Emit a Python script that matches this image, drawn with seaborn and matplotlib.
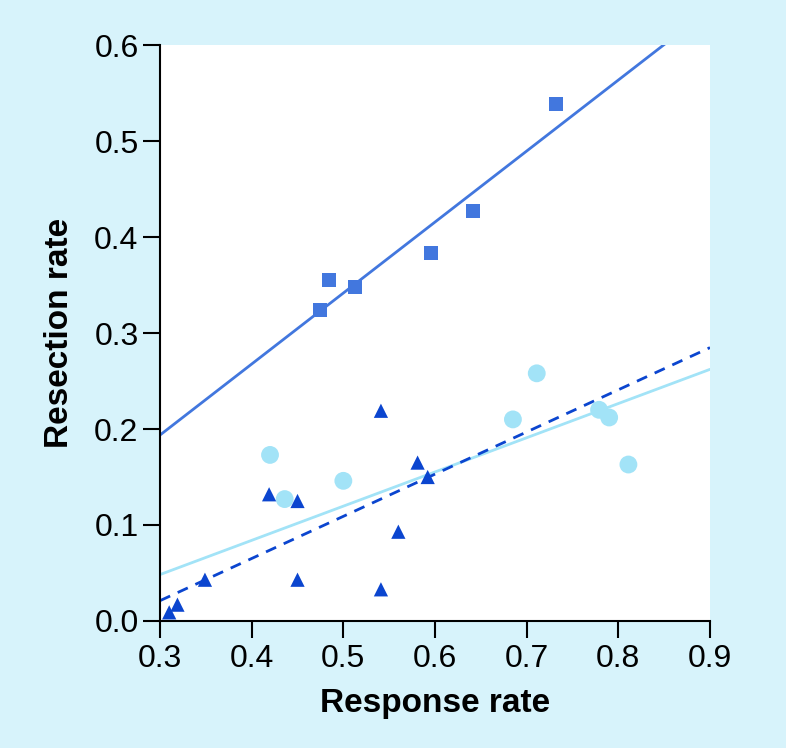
import numpy as np
import pandas as pd
import matplotlib
matplotlib.use("Agg")
import matplotlib.pyplot as plt
import seaborn as sns

# ------------------------------------------
# DATA
# ------------------------------------------
# squares
sq_x = [0.475, 0.484, 0.513, 0.596, 0.641, 0.732]
sq_y = [0.324, 0.355, 0.348, 0.383, 0.427, 0.539]

# light circles
ci_x = [0.420, 0.436, 0.500, 0.685, 0.711, 0.779, 0.790, 0.811]
ci_y = [0.173, 0.127, 0.146, 0.210, 0.258, 0.220, 0.212, 0.163]

# triangles
tr_x = [0.541, 0.581, 0.592, 0.419, 0.450, 0.560, 0.349, 0.450, 0.541, 0.319, 0.310]
tr_y = [0.219, 0.165, 0.150, 0.132, 0.125, 0.093, 0.043, 0.043, 0.033, 0.017, 0.009]

x_ticks = [0.3, 0.4, 0.5, 0.6, 0.7, 0.8, 0.9]
y_ticks = [0.0, 0.1, 0.2, 0.3, 0.4, 0.5, 0.6]

# colours
bg_col = "#d7f3fb"
sq_col = "#4277de"
ci_col = "#a2e3f7"
tr_col = "#0b45cf"

# ------------------------------------------
# FIGURE
# ------------------------------------------
sns.set_style("ticks")
plt.rcParams["font.family"] = ["Liberation Sans", "DejaVu Sans"]
plt.rcParams["text.color"] = "black"
plt.rcParams["axes.labelcolor"] = "black"

fig = plt.figure(figsize=(7.86, 7.48), dpi=100, facecolor=bg_col)
ax = fig.add_axes([0.2036, 0.1698, 0.6997, 0.7700])
ax.set_facecolor("white")
ax.set_xlim(0.3, 0.9)
ax.set_ylim(0.0, 0.6)

df_sq = pd.DataFrame({"x": sq_x, "y": sq_y})
df_ci = pd.DataFrame({"x": ci_x, "y": ci_y})
df_tr = pd.DataFrame({"x": tr_x, "y": tr_y})
df_low = pd.concat([df_ci, df_tr], ignore_index=True)

# regression lines (extended to the axis limits)
sns.regplot(data=df_sq, x="x", y="y", ax=ax, scatter=False, ci=None, truncate=False,
            line_kws={"color": sq_col, "lw": 2.0})
sns.regplot(data=df_low, x="x", y="y", ax=ax, scatter=False, ci=None, truncate=False,
            line_kws={"color": ci_col, "lw": 2.0})
sns.regplot(data=df_tr, x="x", y="y", ax=ax, scatter=False, ci=None, truncate=False,
            line_kws={"color": tr_col, "lw": 2.0, "ls": (0, (4, 3))})

# points
sns.scatterplot(data=df_sq, x="x", y="y", ax=ax, marker="s", s=100, color=sq_col,
                edgecolor="none", zorder=3)
sns.scatterplot(data=df_ci, x="x", y="y", ax=ax, marker="o", s=165, color=ci_col,
                edgecolor="none", zorder=3)
sns.scatterplot(data=df_tr, x="x", y="y", ax=ax, marker="^", s=105, color=tr_col,
                edgecolor="none", zorder=3)

ax.set_xlim(0.3, 0.9)
ax.set_ylim(0.0, 0.6)
ax.set_xticks(x_ticks)
ax.set_yticks(y_ticks)
ax.set_xticklabels([f"{v:.1f}" for v in x_ticks])
ax.set_yticklabels([f"{v:.1f}" for v in y_ticks])
ax.tick_params(direction="out", length=12.5, width=1.5, labelsize=23, colors="black")
ax.tick_params(axis="x", pad=4)
ax.tick_params(axis="y", pad=3)

for side in ["top", "right"]:
    ax.spines[side].set_visible(False)
for side in ["left", "bottom"]:
    ax.spines[side].set_linewidth(1.5)
    ax.spines[side].set_color("black")

ax.set_xlabel("Response rate", fontsize=24, fontweight="bold", color="black", labelpad=10)
ax.set_ylabel("Resection rate", fontsize=24, fontweight="bold", color="black", labelpad=14)

plt.savefig("out.png", dpi=100, facecolor=bg_col)
